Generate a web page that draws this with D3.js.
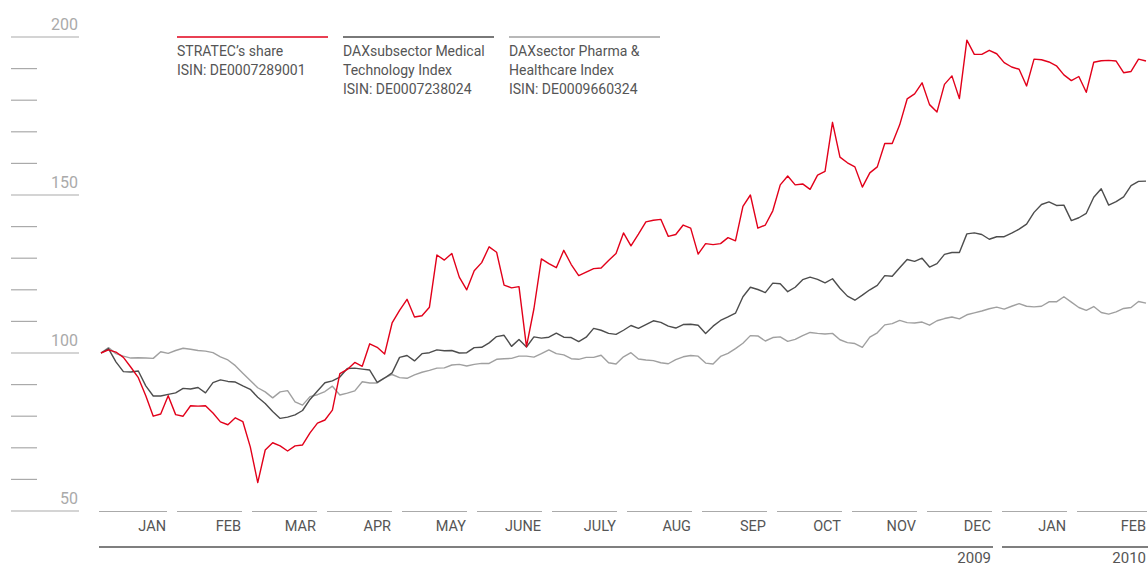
<!DOCTYPE html>
<html>
<head>
<meta charset="utf-8">
<script src="https://cdn.jsdelivr.net/npm/d3@7"></script>
<style>
    body { margin: 0; background: #fff; }
    text { font-family: Roboto, "Open Sans", sans-serif; }
</style>
</head>
<body>
<div id="chart"></div>
<script>
// Month labels on the time axis (Jan 2009 - Feb 2010)
var months = [ "JAN", "FEB", "MAR", "APR", "MAY", "JUNE", "JULY", "AUG", "SEP", "OCT", "NOV", "DEC", "JAN", "FEB" ];
var years  = [ { label: "2009", first: 0, last: 11 }, { label: "2010", first: 12, last: 13 } ];

// Y axis
var yTicks  = d3.range( 50, 201, 10 );
var yLabels = [ 50, 100, 150, 200 ];

// Indexed performance, 31.12.2008 = 100 (about two trading days per point)
var stratec = [
    100, 101, 100.3, 98.6, 95.5, 92.2, 86.5, 80, 80.7, 86.5,
    80.5, 80, 83.3, 83.2, 83.3, 81, 78.2, 77.3, 79.5, 78.3,
    70.3, 59, 69.3, 71.6, 70.6, 69, 70.6, 70.9, 74.7, 77.8,
    78.8, 81.9, 93.5, 94.8, 97, 95.8, 102.9, 101.8, 99.7, 109.5,
    113.5, 117, 111.4, 111.8, 114.5, 131, 129.4, 131.5, 124, 120,
    126, 128.6, 133.6, 131.9, 121.5, 120.6, 121, 102, 114, 129.8,
    128.3, 127, 132.5, 128, 124.5, 125.6, 126.7, 126.9, 129.3, 131.5,
    138, 133.9, 137.6, 141.5, 142, 142.3, 136.9, 137.5, 140.5, 139.5,
    131.3, 134.6, 134.3, 134.6, 136.5, 135.5, 146.4, 150, 139.5, 140.5,
    145, 153.2, 156, 153.2, 153.5, 151.8, 156.3, 157.5, 173, 162,
    160.2, 158.9, 152.5, 157, 158.9, 166.3, 166.3, 172.2, 180.4, 182,
    185.5, 178.6, 176.3, 185, 187.7, 180.5, 199, 194.5, 194.5, 195.8,
    194.7, 191.9, 190.5, 189.8, 184.5, 193, 192.8, 192.1, 190.9, 188,
    186.2, 187.5, 182.5, 192, 192.5, 192.6, 192.4, 188.7, 189.1, 193,
    192.4
];

var medtech = [
    100, 101.4, 97.2, 94.1, 94, 94.3, 89.6, 86.4, 86.4, 86.9,
    87.4, 88.8, 88.6, 89.1, 87.4, 90.6, 91.5, 91, 90.8, 89.6,
    88.5, 86, 84, 81.5, 79.3, 79.7, 80.4, 81.8, 85.3, 88,
    90.6, 91.2, 92.4, 95.1, 95.2, 94.9, 94.6, 90.7, 92.1, 93.7,
    98.6, 99.2, 97.5, 99.8, 100.1, 101, 100.7, 100.8, 100, 100.1,
    101.7, 101.8, 103.2, 105.2, 105.6, 102.1, 104.3, 101.9, 105.1, 104.7,
    105, 106.3, 105, 104.9, 103.6, 105, 107.8, 107.2, 106.2, 105.9,
    107.2, 108.7, 107.8, 109, 110.2, 109.7, 108.5, 107.9, 109, 109.1,
    108.8, 106.2, 108.5, 110.3, 111.4, 112.6, 117.8, 120.8, 120.1, 119.1,
    122.1, 121.9, 119.4, 120.8, 123.2, 124, 123.3, 122.2, 123.5, 120.5,
    118, 116.7, 118.3, 120, 121.4, 124.5, 124.3, 127, 129.6, 129,
    130, 127.2, 128.3, 131.2, 131.8, 131.8, 137.7, 138, 137.5, 136,
    136.8, 136.8, 137.9, 139.2, 140.8, 144.5, 147, 147.8, 146.7, 146.8,
    141.9, 142.8, 144.2, 149.3, 152, 146.8, 147.9, 149.4, 153, 154.3,
    154.4
];

var pharma = [
    100, 101.7, 99.8, 99, 98.4, 98.5, 98.4, 98.3, 100.4, 99.9,
    100.8, 101.5, 101.2, 100.8, 100.6, 100.1, 98.8, 97.8, 96, 93.6,
    91.3, 89, 87.7, 85.8, 87.7, 88.1, 84.5, 83.5, 86.2, 86.8,
    87.8, 89.5, 86.7, 87.3, 88, 90.9, 90.5, 90.5, 92.1, 93.2,
    92.2, 92, 93.1, 93.9, 94.5, 95.2, 95.3, 96.2, 96.4, 95.9,
    96.4, 96.7, 96.7, 98, 98.2, 98.3, 99, 99, 98.7, 99.8,
    101, 99.8, 99.4, 98.2, 98, 98.6, 98.6, 99.3, 96.9, 96.5,
    98.8, 100.1, 98.1, 97.8, 97.6, 96.9, 96.6, 97.9, 98.8, 99.2,
    99, 96.8, 96.5, 98.9, 99.9, 101.4, 103.1, 105.5, 105.4, 103.8,
    104.9, 105.1, 103.7, 104.3, 105.5, 106.5, 106.2, 106, 106.2, 104.2,
    103.3, 103, 101.8, 105, 106.4, 108.9, 109.3, 110.3, 109.6, 109.5,
    109.8, 108.8, 110.2, 110.9, 111.4, 110.8, 112.1, 112.7, 113.3, 114,
    114.5, 113.9, 114.8, 115.6, 114.8, 114.6, 114.8, 116.2, 116.2, 117.8,
    116.1, 114.4, 113.5, 114.7, 112.8, 112.3, 113, 114.1, 114.4, 116.3,
    115.8
];

var legendNames = [
    [ "STRATEC’s share", "ISIN: DE0007289001" ],
    [ "DAXsubsector Medical", "Technology Index", "ISIN: DE0007238024" ],
    [ "DAXsector Pharma &", "Healthcare Index", "ISIN: DE0009660324" ]
];

// The SVG Element
var chart_width  = 1148;
var chart_height = 567;

var colors = [ "#e2001a", "#4d4d4d", "#a0a0a0" ];
var series = [ stratec, medtech, pharma ];

var svg = d3.select( '#chart' )
    .append( 'svg' )
    .attr( 'width', chart_width )
    .attr( 'height', chart_height );

// Scales
var x = d3.scaleLinear()
    .domain( [ 0, stratec.length - 1 ] )
    .range( [ 101, 1146 ] );

var y = d3.scaleLinear()
    .domain( [ 50, 200 ] )
    .range( [ 511, 37 ] );

var monthBand = d3.scaleBand()
    .domain( d3.range( months.length ) )
    .range( [ 102, 1142 ] )
    .paddingInner( 10 / 75 )
    .paddingOuter( 0 );

function segStart( i ) { return i === 0 ? 99 : monthBand( i ); }
function segEnd( i )   { return i === months.length - 1 ? 1147 : monthBand( i ) + monthBand.bandwidth(); }

// Y axis ticks: long ones with labels every 50, short ones every 10
svg.selectAll( ".ytick" )
    .data( yTicks )
    .enter()
    .append( "line" )
    .attr( "x1", 11 )
    .attr( "x2", function( d ) { return d % 50 === 0 ? 79 : 37; } )
    .attr( "y1", function( d ) { return y( d ); } )
    .attr( "y2", function( d ) { return y( d ); } )
    .style( "stroke", "#aaa" )
    .style( "stroke-width", 1.2 );

svg.selectAll( ".ylabel" )
    .data( yLabels )
    .enter()
    .append( "text" )
    .attr( "x", 78 )
    .attr( "y", function( d ) { return y( d ) - 7; } )
    .attr( "text-anchor", "end" )
    .style( "font-size", "16px" )
    .style( "fill", "#aaa" )
    .text( function( d ) { return d; } );

// Month segments
svg.selectAll( ".month" )
    .data( months )
    .enter()
    .append( "line" )
    .attr( "x1", function( d, i ) { return segStart( i ); } )
    .attr( "x2", function( d, i ) { return segEnd( i ); } )
    .attr( "y1", 511.5 )
    .attr( "y2", 511.5 )
    .style( "stroke", "#aaa" )
    .style( "stroke-width", 1.2 );

svg.selectAll( ".mlabel" )
    .data( months )
    .enter()
    .append( "text" )
    .attr( "x", function( d, i ) { return segEnd( i ) - 1; } )
    .attr( "y", 531 )
    .attr( "text-anchor", "end" )
    .style( "font-size", "14.5px" )
    .style( "fill", "#555" )
    .text( function( d ) { return d; } );

// Years
svg.selectAll( ".year" )
    .data( years )
    .enter()
    .append( "line" )
    .attr( "x1", function( d ) { return segStart( d.first ); } )
    .attr( "x2", function( d ) { return segEnd( d.last ) + 1; } )
    .attr( "y1", 547 )
    .attr( "y2", 547 )
    .style( "stroke", "#555" )
    .style( "stroke-width", 1.6 );

svg.selectAll( ".ylab" )
    .data( years )
    .enter()
    .append( "text" )
    .attr( "x", function( d ) { return segEnd( d.last ) - 1; } )
    .attr( "y", 563 )
    .attr( "text-anchor", "end" )
    .style( "font-size", "15px" )
    .style( "fill", "#555" )
    .text( function( d ) { return d.label; } );

// Lines, grey first so the share stays on top
var line = d3.line()
    .x( function( d, i ) { return x( i ); } )
    .y( function( d ) { return y( d ); } );

svg.selectAll( ".series" )
    .data( [ 2, 1, 0 ] )
    .enter()
    .append( "path" )
    .attr( "d", function( k ) { return line( series[ k ] ); } )
    .style( "fill", "none" )
    .style( "stroke", function( k ) { return colors[ k ]; } )
    .style( "stroke-width", 1.4 )
    .style( "stroke-linejoin", "round" );

// Legend
var legend = svg.selectAll( ".legend" )
    .data( legendNames )
    .enter()
    .append( "g" )
    .attr( "transform", function( d, i ) { return "translate(" + ( 177 + i * 166 ) + ",0)"; } );

legend.append( "line" )
    .attr( "x1", 0 )
    .attr( "x2", 151 )
    .attr( "y1", 37 )
    .attr( "y2", 37 )
    .style( "stroke", function( d, i ) { return colors[ i ]; } )
    .style( "stroke-width", 1.5 );

legend.selectAll( "text" )
    .data( function( d ) { return d; } )
    .enter()
    .append( "text" )
    .attr( "x", 0 )
    .attr( "y", function( d, i ) { return 56 + i * 19; } )
    .style( "font-size", "14px" )
    .style( "fill", "#555" )
    .text( function( d ) { return d; } );
</script>
</body>
</html>
